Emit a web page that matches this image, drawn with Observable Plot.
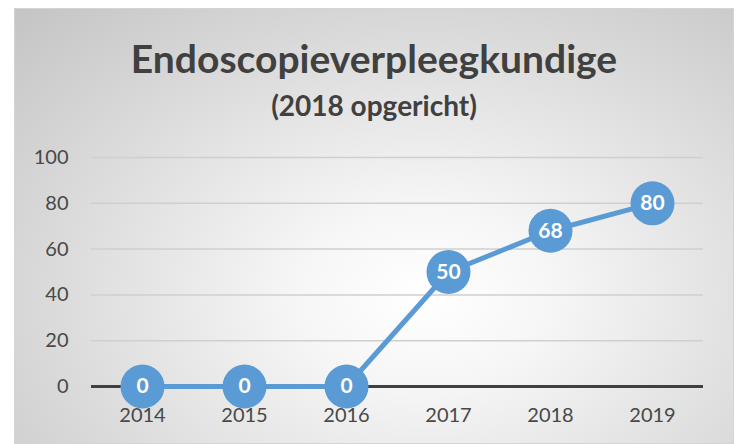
<!DOCTYPE html>
<html>
<head>
<meta charset="utf-8">
<script src="https://cdn.jsdelivr.net/npm/d3@7"></script>
<script src="https://cdn.jsdelivr.net/npm/@observablehq/plot@0.6"></script>
<style>
  html, body { margin: 0; padding: 0; background: #ffffff; }
  #frame {
    position: absolute; left: 14px; top: 8px; width: 720px; height: 436px;
    box-sizing: border-box; border: 1px solid #d4d4d4; overflow: hidden;
    background: radial-gradient(ellipse farthest-corner at 57% 66%, #ffffff 0%, #f6f6f6 22%, #dcdcdc 62%, #c4c4c4 100%);
    font-family: Lato, "Open Sans", sans-serif;
  }
  #title { margin-top: 27px; height: 44px; line-height: 44px; text-align: center;
    font-size: 39px; font-weight: bold; color: #404040; white-space: nowrap; }
  #subtitle { margin-top: 8px; height: 34px; line-height: 34px; text-align: center;
    font-size: 28px; font-weight: bold; color: #404040; white-space: nowrap; }
  #chart { margin-top: 8px; }
  #chart svg { display: block; }
</style>
</head>
<body>
<div id="frame">
  <div id="title">Endoscopieverpleegkundige</div>
  <div id="subtitle">(2018 opgericht)</div>
  <div id="chart"></div>
</div>
<script>
const years = ["2014", "2015", "2016", "2017", "2018", "2019"];
const values = [0, 0, 0, 50, 68, 80];
const yTicks = [0, 20, 40, 60, 80, 100];

const data = years.map((year, i) => ({year, value: values[i]}));

const chart = Plot.plot({
  width: 718,
  height: 313,
  marginLeft: 76,
  marginRight: 30,
  marginTop: 27,
  marginBottom: 57,
  style: {fontFamily: "Lato, 'Open Sans', sans-serif", fontSize: "20px", background: "transparent", overflow: "visible", color: "#484848"},
  x: {type: "point", domain: years, padding: 0.5},
  y: {domain: [0, 100]},
  marks: [
    Plot.ruleY(yTicks.filter(d => d > 0), {stroke: "#cfcfcf", strokeWidth: 1.5}),
    Plot.ruleY([0], {stroke: "#404040", strokeWidth: 3}),
    Plot.axisY({ticks: yTicks, tickSize: 0, tickPadding: 23, label: null, fontSize: 20, fill: "#484848"}),
    Plot.axisX({tickSize: 0, tickPadding: 21, label: null, fontSize: 20, fill: "#484848"}),
    Plot.line(data, {x: "year", y: "value", stroke: "#5B9BD5", strokeWidth: 5}),
    Plot.dot(data, {x: "year", y: "value", r: 22, fill: "#5B9BD5"}),
    Plot.text(data, {x: "year", y: "value", text: d => String(d.value), fill: "white", fontWeight: "bold", fontSize: 21})
  ]
});
document.getElementById("chart").appendChild(chart);
</script>
</body>
</html>
